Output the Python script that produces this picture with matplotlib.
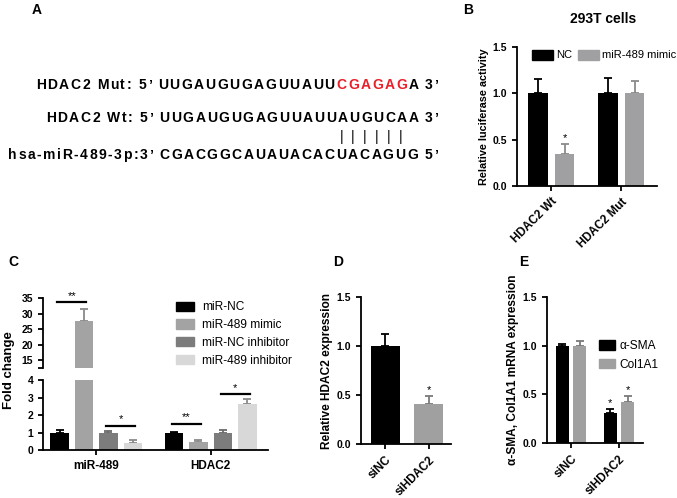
import matplotlib
matplotlib.use("Agg")
import matplotlib.pyplot as plt
from matplotlib.patches import Patch
from matplotlib.font_manager import FontProperties
import numpy as np

plt.rcParams['font.family'] = ['Liberation Sans', 'DejaVu Sans']
plt.rcParams['axes.linewidth'] = 1.3
plt.rcParams['xtick.major.width'] = 1.3
plt.rcParams['ytick.major.width'] = 1.3
plt.rcParams['xtick.major.size'] = 3.5
plt.rcParams['ytick.major.size'] = 3.5

# ---- data ----
# panel A sequences
mut_prefix = "HDAC2 Mut: 5\u2019 UUGAUGUGAGUUAUU"
mut_red = "CGAGAG"
mut_suffix = "A 3\u2019"
wt_line = "HDAC2 Wt: 5\u2019 UUGAUGUGAGUUAUUAUGUCAA 3\u2019"
mir_prefix = "hsa-miR-489-3p:3\u2019 "
mir_seq = "CGACGGCAUAUACACUACAGUG"
mir_suffix = " 5\u2019"
pair_idx = [15, 16, 17, 18, 19, 20]

# panel B
b_groups = ["HDAC2 Wt", "HDAC2 Mut"]
b_nc = [1.0, 1.0]
b_nc_err = [0.15, 0.17]
b_mimic = [0.35, 1.0]
b_mimic_err = [0.10, 0.13]

# panel C
c_groups = ["miR-489", "HDAC2"]
c_series = ["miR-NC", "miR-489 mimic", "miR-NC inhibitor", "miR-489 inhibitor"]
c_vals = [[1.0, 1.0], [27.5, 0.45], [1.0, 1.0], [0.4, 2.65]]
c_errs = [[0.15, 0.05], [4.0, 0.12], [0.08, 0.15], [0.17, 0.25]]
# significance: (group, series_a, series_b, height, label)
c_sig = [(0, 0, 1, 33.6, "**"), (0, 2, 3, 1.4, "*"),
         (1, 0, 1, 1.5, "**"), (1, 2, 3, 3.2, "*")]

# panel D
d_cats = ["siNC", "siHDAC2"]
d_vals = [1.0, 0.41]
d_errs = [0.12, 0.08]

# panel E
e_cats = ["siNC", "siHDAC2"]
e_sma = [1.0, 0.31]
e_sma_err = [0.02, 0.04]
e_col = [1.0, 0.42]
e_col_err = [0.05, 0.06]

W, H = 677, 498
fig = plt.figure(figsize=(W / 100, H / 100), dpi=100)


def box(x0, y0, x1, y1):
    return [x0 / W, 1 - y1 / H, (x1 - x0) / W, (y1 - y0) / H]


def style(ax, xsize=8.5):
    for s in ["top", "right"]:
        ax.spines[s].set_visible(False)
    ax.tick_params(labelsize=7.5, direction='out')
    ax.tick_params(axis='x', labelsize=xsize)
    for lab in ax.get_yticklabels() + ax.get_xticklabels():
        lab.set_fontweight('bold')


def bars(ax, x, vals, errs, color, width, ecolor=None):
    ax.bar(x, vals, width, color=color, zorder=2)
    ax.errorbar(x, vals, yerr=[np.zeros(len(vals)), errs], fmt='none',
                ecolor=ecolor or color, elinewidth=1.3, capsize=3, capthick=1.3, zorder=1)


bold = dict(fontweight='bold')

# ---- panel A ----
fig.text(32 / W, 1 - 10 / H, "A", fontsize=10, va='center', **bold)
fig.canvas.draw()
r = fig.canvas.get_renderer()
fs_seq = 10
gap = 1.6
prop = FontProperties(family=['Liberation Sans'], weight='bold', size=fs_seq)


def tw(s):
    return r.get_text_width_height_descent(s, prop, ismath=False)[0]


def put(x_px, y_px, s, color='black'):
    # text drawn char by char with a little extra letter spacing
    ref = tw('H')
    centers = []
    for i, ch in enumerate(s):
        left = x_px + tw(s[:i] + 'H') - ref + i * gap
        if ch != ' ':
            fig.text(left / W, 1 - y_px / H, ch, fontproperties=prop, color=color, va='center')
        centers.append(left + tw(ch) / 2)
    end = x_px + tw(s + 'H') - ref + len(s) * gap
    return end, centers


x, _ = put(36, 85, mut_prefix)
x, _ = put(x, 85, mut_red, color='#e8202a')
put(x, 85, mut_suffix)
put(46, 118, wt_line)
x, _ = put(8, 155, mir_prefix)
x, cen = put(x, 155, mir_seq)
put(x, 155, mir_suffix)
for i in pair_idx:
    fig.text(cen[i] / W, 1 - 137 / H, "|", fontsize=fs_seq, ha='center', va='center')

# ---- panel B ----
axB = fig.add_axes(box(517, 47, 657, 186))
xb = np.arange(len(b_groups))
bw = 0.28
bars(axB, xb - 0.19, b_nc, b_nc_err, 'black', bw)
bars(axB, xb + 0.19, b_mimic, b_mimic_err, '#a0a0a2', bw, ecolor='#8a8a8a')
axB.text(0 + 0.19, b_mimic[0] + b_mimic_err[0] + 0.03, "*", ha='center', fontsize=8)
axB.set_xlim(-0.49, 1.51)
axB.set_ylim(0, 1.5)
axB.set_yticks([0, 0.5, 1.0, 1.5])
axB.set_xticks(xb)
axB.set_xticklabels(b_groups, rotation=45, ha='right', rotation_mode='anchor')
axB.set_ylabel("Relative luciferase activity", fontsize=7.8, labelpad=3, **bold)
style(axB)
fig.text(603 / W, 1 - 19 / H, "293T cells", fontsize=10, ha='center', va='center', **bold)
axB.legend(handles=[Patch(color='black', label='NC'), Patch(color='#a0a0a2', label='miR-489 mimic')],
           ncol=2, frameon=False, fontsize=8, loc='center left', borderpad=0,
           bbox_to_anchor=(526 / W, 1 - 55 / H), bbox_transform=fig.transFigure,
           handlelength=1.9, handleheight=1.0, handletextpad=0.3, columnspacing=0.5)
fig.text(463 / W, 1 - 10 / H, "B", fontsize=10, va='center', **bold)

# ---- panel C ----
c_colors = ['black', '#a3a3a3', '#7c7c7c', '#d8d8d8']
c_ecolors = ['black', '#8a8a8a', '#6a6a6a', '#8a8a8a']
axLo = fig.add_axes(box(43, 380, 268, 450))
axHi = fig.add_axes(box(43, 298, 268, 368))
xc = np.arange(len(c_groups))
offs = np.array([-0.32, -0.107, 0.107, 0.32])
cw = 0.16
for ax in (axLo, axHi):
    for k in range(4):
        bars(ax, xc + offs[k], c_vals[k], c_errs[k], c_colors[k], cw, ecolor=c_ecolors[k])
    ax.set_xlim(-0.465, 1.5)
axLo.set_ylim(0, 4)
axLo.set_yticks([0, 1, 2, 3, 4])
axHi.set_ylim(12.42, 35)
lo_hi = axHi.get_ylim()[0]
axHi.set_yticks([lo_hi, 15, 20, 25, 30, 35])
axHi.set_yticklabels(["", "15", "20", "25", "30", "35"])
axHi.spines['bottom'].set_visible(False)
axHi.set_xticks([])
axLo.set_xticks(xc)
axLo.set_xticklabels(c_groups)
style(axLo)
style(axHi)
for g, a, b, h, lab in c_sig:
    ax = axHi if h > 4 else axLo
    x1 = xc[g] + offs[a] - 0.02
    x2 = xc[g] + offs[b] + 0.02
    ax.plot([x1, x2], [h, h], color='black', lw=1.6, clip_on=False)
    ax.annotate(lab, ((x1 + x2) / 2, h), xytext=(0, 1), textcoords='offset points',
                ha='center', va='bottom', fontsize=8, annotation_clip=False)
fig.text(9 / W, 1 - 370 / H, "Fold change", rotation=90, fontsize=9.5,
         ha='center', va='center', **bold)
axHi.legend(handles=[Patch(color=c_colors[k], label=c_series[k]) for k in range(4)],
            frameon=False, fontsize=8.6, loc='center left', borderpad=0,
            bbox_to_anchor=(170 / W, 1 - 334 / H), bbox_transform=fig.transFigure,
            handlelength=1.5, handleheight=0.85, handletextpad=0.7, labelspacing=0.48)
fig.text(8 / W, 1 - 262 / H, "C", fontsize=10, va='center', **bold)

# ---- panel D ----
axD = fig.add_axes(box(361, 297, 451, 444))
xd = np.arange(len(d_cats))
bars(axD, xd[:1], d_vals[:1], d_errs[:1], 'black', 0.67)
bars(axD, xd[1:], d_vals[1:], d_errs[1:], '#a0a0a0', 0.67, ecolor='#7a7a7a')
axD.text(1, d_vals[1] + d_errs[1] + 0.03, "*", ha='center', fontsize=8)
axD.set_xlim(-0.56, 1.52)
axD.set_ylim(0, 1.5)
axD.set_yticks([0, 0.5, 1.0, 1.5])
axD.set_xticks(xd)
axD.set_xticklabels(d_cats, rotation=45, ha='right', rotation_mode='anchor')
axD.set_ylabel("Relative HDAC2 expression", fontsize=8.6, labelpad=3, **bold)
style(axD, 8.5)
fig.text(333 / W, 1 - 262 / H, "D", fontsize=10, va='center', **bold)

# ---- panel E ----
axE = fig.add_axes(box(547, 297, 643, 443))
xe_ = np.arange(len(e_cats))
bars(axE, xe_ - 0.18, e_sma, e_sma_err, 'black', 0.26)
bars(axE, xe_ + 0.18, e_col, e_col_err, '#a0a0a0', 0.26, ecolor='#7a7a7a')
axE.text(1 - 0.18, e_sma[1] + e_sma_err[1] + 0.03, "*", ha='center', fontsize=8)
axE.text(1 + 0.18, e_col[1] + e_col_err[1] + 0.03, "*", ha='center', fontsize=8)
axE.set_xlim(-0.5, 1.5)
axE.set_ylim(0, 1.5)
axE.set_yticks([0, 0.5, 1.0, 1.5])
axE.set_xticks(xe_)
axE.set_xticklabels(e_cats, rotation=45, ha='right', rotation_mode='anchor')
axE.set_ylabel("\u03b1-SMA, Col1A1 mRNA expression", fontsize=8.6, labelpad=3, **bold)
style(axE, 8.5)
axE.legend(handles=[Patch(color='black', label='\u03b1-SMA'), Patch(color='#a0a0a0', label='Col1A1')],
           frameon=False, fontsize=8.6, loc='upper left', borderpad=0,
           bbox_to_anchor=(593 / W, 1 - 334 / H), bbox_transform=fig.transFigure,
           handlelength=1.3, handleheight=0.85, handletextpad=0.4, labelspacing=0.55)
fig.text(519 / W, 1 - 262 / H, "E", fontsize=10, va='center', **bold)

fig.savefig("out.png", dpi=100)
